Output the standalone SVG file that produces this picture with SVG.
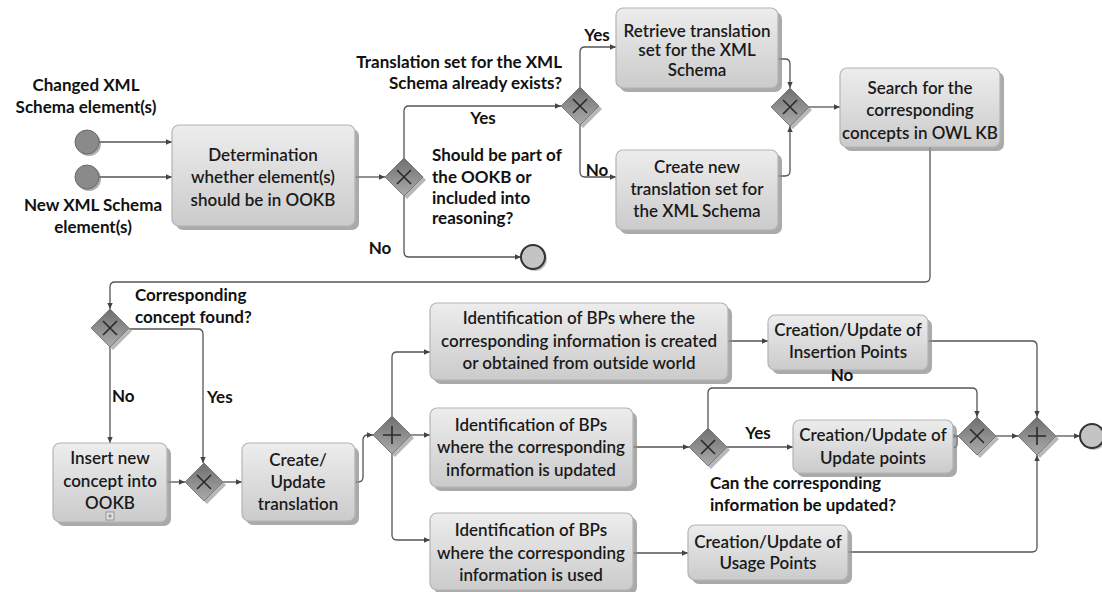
<svg xmlns="http://www.w3.org/2000/svg" width="1102" height="592" viewBox="0 0 1102 592">
<defs>
<linearGradient id="gTask" x1="0" y1="0" x2="0" y2="1">
<stop offset="0" stop-color="#ededed"/>
<stop offset="1" stop-color="#cbcbcb"/>
</linearGradient>
<linearGradient id="gGw" x1="0" y1="0" x2="0" y2="1">
<stop offset="0" stop-color="#6f6f6f"/>
<stop offset="1" stop-color="#ababab"/>
</linearGradient>
<marker id="arr" markerWidth="7" markerHeight="7" refX="6" refY="3.5" orient="auto" markerUnits="userSpaceOnUse">
<path d="M0,0.8 L6,3.5 L0,6.2 Z" fill="#444"/>
</marker>
<g id="gwshape">
<path d="M3,-16 L22,3 L3,22 L-16,3 Z" fill="#9a9a9a" opacity="0.7"/>
<path d="M0,-19 L19,0 L0,19 L-19,0 Z" fill="url(#gGw)" stroke="#7a7a7a" stroke-width="1"/>
</g>
</defs>
<style>
.task{fill:url(#gTask);stroke:#b4b4b4;stroke-width:1.2}
.shadow{fill:#8e8e8e;opacity:0.75}
.tt{font-family:Lato,"Open Sans","Liberation Sans",sans-serif;font-size:17px;font-weight:600;fill:#1a1a1a;text-anchor:middle}
.lb{font-family:Lato,"Open Sans","Liberation Sans",sans-serif;font-size:17px;font-weight:bold;fill:#111}
.c{text-anchor:middle}
.e{text-anchor:end}
.con{fill:none;stroke:#555;stroke-width:1.3}
.mk{stroke:#2a2a2a;stroke-width:1.6;fill:none}
</style>
<rect width="1102" height="592" fill="#ffffff"/>

<g id="connectors">
<path class="con" marker-end="url(#arr)" d="M99,142 H172"/>
<path class="con" marker-end="url(#arr)" d="M99,177 H172"/>
<path class="con" marker-end="url(#arr)" d="M355,177 H385"/>
<path class="con" marker-end="url(#arr)" d="M404,158 V111 Q404,106 409,106 H561"/>
<path class="con" marker-end="url(#arr)" d="M404,196 V252 Q404,257 409,257 H521"/>
<path class="con" marker-end="url(#arr)" d="M580,87 V52 Q580,47 585,47 H616"/>
<path class="con" marker-end="url(#arr)" d="M580,125 V172 Q580,177 585,177 H616"/>
<path class="con" marker-end="url(#arr)" d="M778,59 H785 Q790,59 790,64 V88"/>
<path class="con" marker-end="url(#arr)" d="M778,176 H785 Q790,176 790,171 V126"/>
<path class="con" marker-end="url(#arr)" d="M809,107 H840"/>
<path class="con" marker-end="url(#arr)" d="M930,147 V277 Q930,282 925,282 H115 Q110,282 110,287 V309"/>
<path class="con" marker-end="url(#arr)" d="M110,347 V443"/>
<path class="con" marker-end="url(#arr)" d="M129,329 H198 Q203,329 203,334 V463"/>
<path class="con" marker-end="url(#arr)" d="M167,482 H185"/>
<path class="con" marker-end="url(#arr)" d="M223,482 H242"/>
<path class="con" marker-end="url(#arr)" d="M355,482 H358 Q363,482 363,477 V440 Q363,435 368,435 H373"/>
<path class="con" marker-end="url(#arr)" d="M392,416 V357 Q392,352 397,352 H430"/>
<path class="con" marker-end="url(#arr)" d="M411,435 H430"/>
<path class="con" marker-end="url(#arr)" d="M392,454 V535 Q392,540 397,540 H430"/>
<path class="con" marker-end="url(#arr)" d="M728,341 H768"/>
<path class="con" marker-end="url(#arr)" d="M633,447 H689"/>
<path class="con" marker-end="url(#arr)" d="M727,447 H793"/>
<path class="con" marker-end="url(#arr)" d="M708,428 V393 Q708,388 713,388 H972 Q977,388 977,393 V417"/>
<path class="con" marker-end="url(#arr)" d="M953,447 H955 Q957,447 957,444 V438 Q957,436 958,436"/>
<path class="con" marker-end="url(#arr)" d="M996,436 H1018"/>
<path class="con" marker-end="url(#arr)" d="M928,341 H1032 Q1037,341 1037,346 V417"/>
<path class="con" marker-end="url(#arr)" d="M848,552 H1032 Q1037,552 1037,547 V455"/>
<path class="con" marker-end="url(#arr)" d="M1056,436 H1080"/>
<path class="con" marker-end="url(#arr)" d="M633,553 H688"/>
</g>

<g id="start-changed">
<circle cx="89" cy="144" r="12" fill="#777" opacity="0.6"/>
<circle cx="87" cy="142" r="12" fill="#8a8a8a" stroke="#6a6a6a" stroke-width="1"/>
<text class="lb c" x="86" y="91">Changed XML</text>
<text class="lb c" x="86" y="113">Schema element(s)</text>
</g>
<g id="start-new">
<circle cx="89" cy="179" r="12" fill="#777" opacity="0.6"/>
<circle cx="87" cy="177" r="12" fill="#8a8a8a" stroke="#6a6a6a" stroke-width="1"/>
<text class="lb c" x="93" y="211">New XML Schema</text>
<text class="lb c" x="93" y="233">element(s)</text>
</g>

<g id="task-determination">
<rect class="shadow" x="176" y="129" width="183" height="101" rx="7"/>
<rect class="task" x="172" y="125" width="183" height="101" rx="7"/>
<text class="tt" x="263" y="161">Determination</text>
<text class="tt" x="263" y="183">whether element(s)</text>
<text class="tt" x="263" y="206">should be in OOKB</text>
</g>

<g id="gw-ookb">
<use href="#gwshape" x="404" y="177"/>
<path class="mk" d="M397,170 L411,184 M411,170 L397,184"/>
<text class="lb" x="432" y="161">Should be part of</text>
<text class="lb" x="432" y="183">the OOKB or</text>
<text class="lb" x="432" y="204">included into</text>
<text class="lb" x="432" y="224">reasoning?</text>
<text class="lb c" x="483" y="124">Yes</text>
<text class="lb c" x="380" y="254">No</text>
</g>

<g id="end-1">
<circle cx="535" cy="259" r="12" fill="#888" opacity="0.5"/>
<circle cx="533" cy="257" r="12" fill="#c4c4c4" stroke="#333" stroke-width="2"/>
</g>

<g id="gw-exists">
<use href="#gwshape" x="580" y="106"/>
<path class="mk" d="M573,99 L587,113 M587,99 L573,113"/>
<text class="lb e" x="562" y="68">Translation set for the XML</text>
<text class="lb e" x="562" y="89">Schema already exists?</text>
<text class="lb c" x="597" y="41">Yes</text>
<text class="lb c" x="597" y="176">No</text>
</g>

<g id="task-retrieve">
<rect class="shadow" x="620" y="12" width="162" height="80" rx="7"/>
<rect class="task" x="616" y="8" width="162" height="80" rx="7"/>
<text class="tt" x="697" y="37">Retrieve translation</text>
<text class="tt" x="697" y="56">set for the XML</text>
<text class="tt" x="697" y="76">Schema</text>
</g>

<g id="task-create-set">
<rect class="shadow" x="620" y="154" width="162" height="80" rx="7"/>
<rect class="task" x="616" y="150" width="162" height="80" rx="7"/>
<text class="tt" x="697" y="173">Create new</text>
<text class="tt" x="697" y="195">translation set for</text>
<text class="tt" x="697" y="217">the XML Schema</text>
</g>

<g id="gw-merge1">
<use href="#gwshape" x="790" y="107"/>
<path class="mk" d="M783,100 L797,114 M797,100 L783,114"/>
</g>

<g id="task-search">
<rect class="shadow" x="844" y="72" width="160" height="79" rx="7"/>
<rect class="task" x="840" y="68" width="160" height="79" rx="7"/>
<text class="tt" x="920" y="94">Search for the</text>
<text class="tt" x="920" y="116">corresponding</text>
<text class="tt" x="920" y="139">concepts in OWL KB</text>
</g>

<g id="gw-found">
<use href="#gwshape" x="110" y="328"/>
<path class="mk" d="M103,321 L117,335 M117,321 L103,335"/>
<text class="lb" x="135" y="301">Corresponding</text>
<text class="lb" x="135" y="323">concept found?</text>
<text class="lb" x="112" y="402">No</text>
<text class="lb" x="207" y="403">Yes</text>
</g>

<g id="task-insert">
<rect class="shadow" x="57" y="447" width="114" height="79" rx="7"/>
<rect class="task" x="53" y="443" width="114" height="79" rx="7"/>
<text class="tt" x="110" y="464">Insert new</text>
<text class="tt" x="110" y="487">concept into</text>
<text class="tt" x="110" y="509">OOKB</text>
<rect x="106" y="512" width="8" height="8" fill="#e0e0e0" stroke="#888" stroke-width="0.8"/>
<path d="M108,516 H112 M110,514 V518" stroke="#777" stroke-width="0.8"/>
</g>

<g id="gw-merge2">
<use href="#gwshape" x="204" y="482"/>
<path class="mk" d="M197,475 L211,489 M211,475 L197,489"/>
</g>

<g id="task-translation">
<rect class="shadow" x="246" y="447" width="113" height="78" rx="7"/>
<rect class="task" x="242" y="443" width="113" height="78" rx="7"/>
<text class="tt" x="298" y="466">Create/</text>
<text class="tt" x="298" y="488">Update</text>
<text class="tt" x="298" y="510">translation</text>
</g>

<g id="gw-split">
<use href="#gwshape" x="392" y="435"/>
<path class="mk" d="M392,426 V444 M383,435 H401"/>
</g>

<g id="task-bp-created">
<rect class="shadow" x="434" y="307" width="298" height="77" rx="7"/>
<rect class="task" x="430" y="303" width="298" height="77" rx="7"/>
<text class="tt" x="579" y="324">Identification of BPs where the</text>
<text class="tt" x="579" y="347">corresponding information is created</text>
<text class="tt" x="579" y="369">or obtained from outside world</text>
</g>

<g id="task-bp-updated">
<rect class="shadow" x="434" y="412" width="203" height="79" rx="7"/>
<rect class="task" x="430" y="408" width="203" height="79" rx="7"/>
<text class="tt" x="531" y="431">Identification of BPs</text>
<text class="tt" x="531" y="453">where the corresponding</text>
<text class="tt" x="531" y="476">information is updated</text>
</g>

<g id="task-bp-used">
<rect class="shadow" x="434" y="517" width="203" height="77" rx="7"/>
<rect class="task" x="430" y="513" width="203" height="77" rx="7"/>
<text class="tt" x="531" y="536">Identification of BPs</text>
<text class="tt" x="531" y="559">where the corresponding</text>
<text class="tt" x="531" y="581">information is used</text>
</g>

<g id="task-insertion-points">
<rect class="shadow" x="772" y="319" width="160" height="55" rx="7"/>
<rect class="task" x="768" y="315" width="160" height="55" rx="7"/>
<text class="tt" x="848" y="336">Creation/Update of</text>
<text class="tt" x="848" y="358">Insertion Points</text>
</g>

<g id="gw-can-update">
<use href="#gwshape" x="708" y="447"/>
<path class="mk" d="M701,440 L715,454 M715,440 L701,454"/>
<text class="lb c" x="758" y="439">Yes</text>
<text class="lb c" x="842" y="381">No</text>
<text class="lb" x="710" y="489">Can the corresponding</text>
<text class="lb" x="710" y="511">information be updated?</text>
</g>

<g id="task-update-points">
<rect class="shadow" x="797" y="424" width="160" height="53" rx="7"/>
<rect class="task" x="793" y="420" width="160" height="53" rx="7"/>
<text class="tt" x="873" y="441">Creation/Update of</text>
<text class="tt" x="873" y="464">Update points</text>
</g>

<g id="task-usage-points">
<rect class="shadow" x="692" y="529" width="160" height="55" rx="7"/>
<rect class="task" x="688" y="525" width="160" height="55" rx="7"/>
<text class="tt" x="768" y="548">Creation/Update of</text>
<text class="tt" x="768" y="569">Usage Points</text>
</g>

<g id="gw-merge3">
<use href="#gwshape" x="977" y="436"/>
<path class="mk" d="M970,429 L984,443 M984,429 L970,443"/>
</g>

<g id="gw-join">
<use href="#gwshape" x="1037" y="436"/>
<path class="mk" d="M1037,427 V445 M1028,436 H1046"/>
</g>

<g id="end-2">
<circle cx="1094" cy="438" r="12" fill="#888" opacity="0.5"/>
<circle cx="1092" cy="436" r="12" fill="#c4c4c4" stroke="#333" stroke-width="2"/>
</g>
</svg>
